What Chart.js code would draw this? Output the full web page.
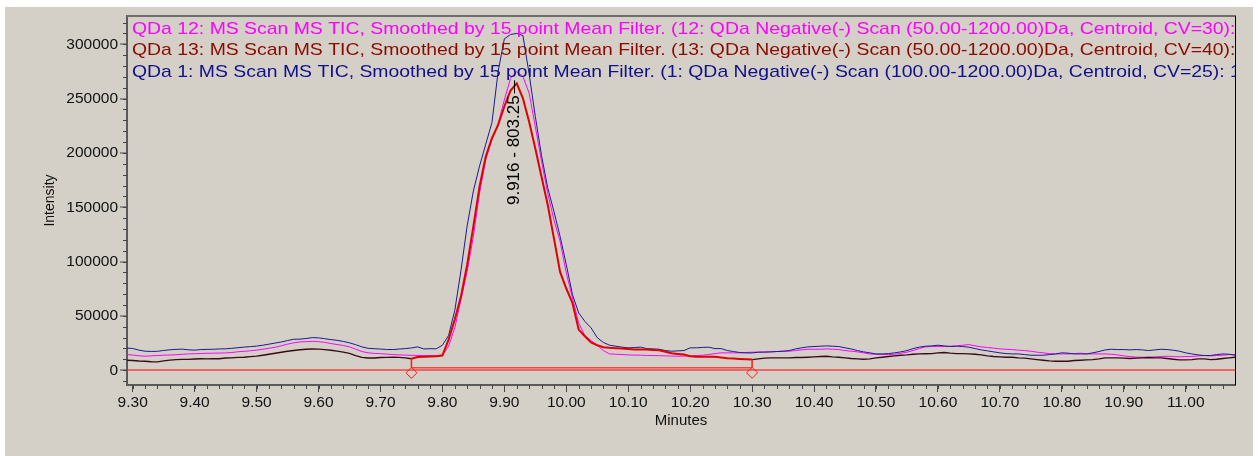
<!DOCTYPE html>
<html>
<head>
<meta charset="utf-8">
<script src="https://cdn.jsdelivr.net/npm/chart.js@4.4.0/dist/chart.umd.min.js"></script>
<style>
html,body{margin:0;padding:0;background:#ffffff;width:1259px;height:456px;overflow:hidden;}
#bg{position:absolute;left:5px;top:7px;width:1248px;height:449px;background:#d4d0c8;}
#wrap{position:absolute;left:0;top:0;width:1259px;height:456px;}
</style>
</head>
<body>
<div id="bg"></div>
<div id="wrap"><canvas id="c" width="1259" height="456"></canvas></div>
<script>
// ---------------- data ----------------
const times = [
9.29,9.30,9.31,9.32,9.33,9.34,9.35,9.36,9.37,9.38,
9.39,9.40,9.41,9.42,9.43,9.44,9.45,9.46,9.47,9.48,
9.49,9.50,9.51,9.52,9.53,9.54,9.55,9.56,9.57,9.58,
9.59,9.60,9.61,9.62,9.63,9.64,9.65,9.66,9.67,9.68,
9.69,9.70,9.71,9.72,9.73,9.74,9.75,9.76,9.77,9.78,
9.79,9.80,9.81,9.82,9.83,9.84,9.85,9.86,9.87,9.88,
9.89,9.90,9.91,9.92,9.93,9.94,9.95,9.96,9.97,9.98,
9.99,10.00,10.01,10.02,10.03,10.04,10.05,10.06,10.07,10.08,
10.09,10.10,10.11,10.12,10.13,10.14,10.15,10.16,10.17,10.18,
10.19,10.20,10.21,10.22,10.23,10.24,10.25,10.26,10.27,10.28,
10.29,10.30,10.31,10.32,10.33,10.34,10.35,10.36,10.37,10.38,
10.39,10.40,10.41,10.42,10.43,10.44,10.45,10.46,10.47,10.48,
10.49,10.50,10.51,10.52,10.53,10.54,10.55,10.56,10.57,10.58,
10.59,10.60,10.61,10.62,10.63,10.64,10.65,10.66,10.67,10.68,
10.69,10.70,10.71,10.72,10.73,10.74,10.75,10.76,10.77,10.78,
10.79,10.80,10.81,10.82,10.83,10.84,10.85,10.86,10.87,10.88,
10.89,10.90,10.91,10.92,10.93,10.94,10.95,10.96,10.97,10.98,
10.99,11.00,11.01,11.02,11.03,11.04,11.05,11.06,11.07,11.08
];

// QDa 1 (CV=25) - navy trace
const qda1 = [
20500,20000,18500,17500,17300,17400,18200,18800,19200,19400,
18800,18500,19000,19200,19300,19600,19700,20200,20700,21300,
21700,22200,23000,24000,25000,26000,27300,28500,28600,29200,
30000,29800,29000,28200,27500,26500,25200,23500,21500,20200,
19800,19500,19100,19000,19500,19900,20500,21500,19600,19800,
19700,23000,32000,55000,92000,133000,165000,188000,208000,228000,
275000,305000,309000,310000,308000,272700,233500,197700,168000,146200,
123200,97100,69600,52700,45000,39000,30000,25500,23000,22100,
21200,20600,20900,21200,19900,19600,19300,18100,17500,17800,
18100,20600,20600,21000,21200,19900,19900,18100,17200,16300,
15900,15900,16600,16600,16900,17200,17500,18100,19600,20600,
21500,21800,22100,22400,22100,21800,20600,19600,18100,16900,
16000,15000,15000,15300,16000,16900,18100,19900,21300,22100,
22400,23000,22400,21800,22100,21800,21200,19900,18700,17800,
16900,16000,15300,15000,15000,14400,13800,13800,13800,14400,
15000,16000,15700,15000,15000,15000,16000,17200,18700,19300,
19000,19000,18700,19000,18700,18100,18700,19300,19000,18400,
17500,16000,15000,14100,13500,13500,14400,15000,14700,13800
];

// QDa 12 (CV=30) - magenta trace
const qda12 = [
14400,14000,13300,12900,13200,13600,13800,14000,14200,14700,
15000,15200,15400,15600,15700,15800,15900,16300,17000,17400,
17900,18500,19300,20200,21100,22500,24000,25200,26000,26300,
26600,26300,25600,24600,23600,22800,21500,19400,17200,16000,
15500,15300,14800,14400,14100,13900,13700,13600,13400,13500,
13500,14000,22000,39000,65000,91000,123000,163000,193700,212600,
227000,248800,268700,274900,270300,255000,224300,192200,163000,138500,
118600,89500,66500,43500,31900,27300,23000,18000,15000,14700,
14400,14100,13900,13800,13600,13500,13400,13200,13000,12900,
13000,13200,13500,13800,14400,15300,16000,16000,16000,16000,
16300,16600,16600,16900,16900,17200,17500,17500,18100,18700,
19300,19300,19300,19600,19300,19000,18100,17500,16900,16000,
15000,14700,14400,14400,14700,15600,16600,18100,20000,21500,
21800,21800,21800,22100,22400,23000,23600,22400,21500,20900,
20300,19600,19300,19000,18400,18100,17500,16600,16000,15300,
15000,15000,15000,15300,15700,15000,15000,15000,15000,14700,
14100,13200,12600,12000,12000,12000,12300,12600,12900,12600,
12300,12600,12600,13200,13500,13200,13500,13800,14400,14400
];

// QDa 13 (CV=40) - dark trace, integrated part in red
const qda13 = [
9200,9000,8500,8200,7800,7700,8600,9300,9800,10000,
10000,10300,10600,10400,10500,10600,11200,11400,11800,12000,
12500,13000,13800,14700,15600,16500,17400,18200,18900,19300,
19500,19400,19000,18400,17600,16700,15500,13500,11800,11200,
11300,11700,11800,12000,11800,11400,10500,12200,12500,12700,
12900,13500,28200,46600,68000,97100,132400,169200,196700,213500,
225800,242700,257400,264000,250300,228600,204100,178100,152300,121600,
90500,75200,61900,37400,31300,25500,23000,21200,20600,20300,
20000,19600,19000,19000,19000,18700,18400,17000,15600,15000,
14400,12900,12300,12300,12300,12300,11700,11100,10800,10400,
10100,9800,10400,11100,11400,11400,11400,11400,11700,11700,
12000,12300,12600,12900,12300,12000,11400,10800,10400,10100,
10400,11400,12000,12600,13200,13800,14100,14700,15000,15200,
15300,16000,16300,15700,15300,15300,15000,14700,14100,13200,
12600,12300,12000,12000,11400,11100,10400,9800,9200,8600,
8300,8300,8300,8900,9200,9500,9800,10400,11400,11400,
11400,11100,10800,11100,11400,11700,11400,11400,10800,10100,
9500,9500,9800,10400,10400,9800,10100,10800,11400,12000
];

const xTickLabels = ['9.30','9.40','9.50','9.60','9.70','9.80','9.90','10.00','10.10','10.20',
                     '10.30','10.40','10.50','10.60','10.70','10.80','10.90','11.00'];
const yTickLabels = [0, 50000, 100000, 150000, 200000, 250000, 300000];

const legendLines = [
 'QDa 12: MS Scan MS TIC, Smoothed by 15 point Mean Filter. (12: QDa Negative(-) Scan (50.00-1200.00)Da, Centroid, CV=30): 1',
 'QDa 13: MS Scan MS TIC, Smoothed by 15 point Mean Filter. (13: QDa Negative(-) Scan (50.00-1200.00)Da, Centroid, CV=40): 1',
 'QDa 1: MS Scan MS TIC, Smoothed by 15 point Mean Filter. (1: QDa Negative(-) Scan (100.00-1200.00)Da, Centroid, CV=25): 1'
];
const legendColors = ['#ff00ff', '#8b0a00', '#10108a'];

const integTimes = [9.75, 10.30];    // integration start / end (min)
const integBaseline = 2200;          // integration baseline level
const integMarkerLevel = -2400;      // diamond marker level
const peakTime = 9.916;
const peakMass = '803.25';

// ---------------- chart ----------------
const FONT = '"Liberation Sans", Arial, sans-serif';
Chart.defaults.font.family = FONT;

const pts = arr => times.map((t, i) => ({x: t, y: arr[i]}));
const valueAt = (arr, t) => arr[times.findIndex(v => Math.abs(v - t) < 1e-6)];
const inInteg = c => c.p0.parsed.x >= integTimes[0] - 1e-9 && c.p1.parsed.x <= integTimes[1] + 1e-9;

const decor = {
  id: 'decor',
  afterDatasetsDraw(chart) {
    const {ctx, chartArea: ca, scales: {x, y}} = chart;
    ctx.save();
    // frame: top & right
    ctx.strokeStyle = '#6e6e6e'; ctx.lineWidth = 2;
    ctx.beginPath(); ctx.moveTo(ca.left, ca.top); ctx.lineTo(ca.right + 1, ca.top); ctx.stroke();
    ctx.strokeStyle = '#000'; ctx.lineWidth = 1;
    ctx.beginPath(); ctx.moveTo(ca.right + 0.5, ca.top); ctx.lineTo(ca.right + 0.5, ca.bottom); ctx.stroke();
    // minor ticks
    ctx.strokeStyle = '#444'; ctx.lineWidth = 1;
    ctx.beginPath();
    for (let k = Math.ceil(x.min * 50); k <= Math.floor(x.max * 50); k++) {
      const px = Math.round(x.getPixelForValue(k / 50)) + 0.5;
      ctx.moveTo(px, ca.bottom); ctx.lineTo(px, ca.bottom + 4);
    }
    for (let k = Math.ceil(y.min / 10000); k <= Math.floor(y.max / 10000); k++) {
      const py = Math.round(y.getPixelForValue(k * 10000)) + 0.5;
      ctx.moveTo(ca.left, py); ctx.lineTo(ca.left - 4, py);
    }
    ctx.stroke();

    // peak label
    const px = x.getPixelForValue(peakTime);
    const py = y.getPixelForValue(Math.max(...qda13));
    ctx.strokeStyle = '#000'; ctx.lineWidth = 1;
    ctx.beginPath(); ctx.moveTo(Math.round(px) + 0.5, py - 3); ctx.lineTo(Math.round(px) + 0.5, py + 10); ctx.stroke();
    ctx.save();
    ctx.translate(px, py + 12);
    ctx.rotate(-Math.PI / 2);
    ctx.font = '17px ' + FONT;
    ctx.fillStyle = '#000';
    ctx.textAlign = 'right'; ctx.textBaseline = 'middle';
    ctx.fillText(peakTime.toFixed(3) + ' - ' + peakMass, 0, 0);
    ctx.restore();

    // legend text lines (clipped to plot)
    ctx.save();
    ctx.beginPath(); ctx.rect(ca.left, ca.top, ca.right - ca.left, ca.bottom - ca.top); ctx.clip();
    ctx.font = '17px ' + FONT;
    ctx.textBaseline = 'middle'; ctx.textAlign = 'left';
    legendLines.forEach((ln, i) => {
      ctx.save();
      ctx.translate(ca.left + 5, ca.top + 13 + i * 21.45);
      ctx.scale(1.141, 1);
      ctx.fillStyle = legendColors[i];
      ctx.fillText(ln, 0, 0);
      ctx.restore();
    });
    ctx.restore();
    ctx.restore();
  }
};

const lineDs = (label, data, color, width, extra) => Object.assign({
  label, data, borderColor: color, backgroundColor: color, borderWidth: width,
  pointRadius: 0, tension: 0, fill: false
}, extra || {});

new Chart(document.getElementById('c'), {
  type: 'line',
  data: {
    datasets: [
      {label: 'markers', data: integTimes.map(t => ({x: t, y: integMarkerLevel})), showLine: false,
       pointStyle: 'rectRot', pointRadius: 5.5, borderColor: '#ff1a1a', backgroundColor: 'rgba(0,0,0,0)', borderWidth: 1},
      lineDs('drop start', [{x: integTimes[0], y: valueAt(qda13, integTimes[0])}, {x: integTimes[0], y: integBaseline}], '#ff1a1a', 1.5),
      lineDs('drop end', [{x: integTimes[1], y: valueAt(qda13, integTimes[1])}, {x: integTimes[1], y: integBaseline}], '#ff1a1a', 1.5),
      lineDs('baseline', integTimes.map(t => ({x: t, y: integBaseline})), '#ff0000', 1),
      lineDs('QDa 13', pts(qda13), '#3a0a16', 1.4, {
        segment: {
          borderColor: c => inInteg(c) ? '#e00000' : undefined,
          borderWidth: c => inInteg(c) ? 2 : undefined
        }
      }),
      lineDs('QDa 1', pts(qda1), '#1a1a8e', 1),
      lineDs('QDa 12', pts(qda12), '#ff00ff', 1)
    ]
  },
  options: {
    responsive: false,
    animation: false,
    devicePixelRatio: 1,
    layout: {padding: {left: 0, top: 16, right: 24, bottom: 0}},
    plugins: {legend: {display: false}, tooltip: {enabled: false}},
    scales: {
      x: {
        type: 'linear', min: 9.2908, max: 11.0796,
        afterBuildTicks: s => { s.ticks = xTickLabels.map(v => ({value: parseFloat(v)})); },
        afterFit: s => { s.height = 71; },
        ticks: {callback: (v, i) => xTickLabels[i], autoSkip: false, maxRotation: 0, minRotation: 0,
                padding: 1, color: '#111', font: {size: 15.5, family: FONT}},
        grid: {display: true, drawOnChartArea: false, drawTicks: true, tickLength: 7, tickColor: '#444', tickWidth: 1, color: 'rgba(0,0,0,0)'},
        border: {display: true, color: '#5a5a5a', width: 2},
        title: {display: true, text: 'Minutes', color: '#111', font: {size: 15, family: FONT}, padding: {top: 0, bottom: 26}}
      },
      y: {
        type: 'linear', min: -13600, max: 326000,
        afterBuildTicks: s => { s.ticks = yTickLabels.map(v => ({value: v})); },
        afterFit: s => { s.width = 127; },
        ticks: {callback: (v, i) => String(yTickLabels[i]), padding: 2, color: '#111', font: {size: 15.5, family: FONT}},
        grid: {display: true, drawOnChartArea: true, drawTicks: true, tickLength: 7, tickWidth: 1, tickColor: '#444',
               color: c => (c.tick && c.tick.value === 0) ? '#f06464' : 'rgba(0,0,0,0)', lineWidth: 2},
        border: {display: true, color: '#5a5a5a', width: 2},
        title: {display: true, text: 'Intensity', color: '#111', font: {size: 14, family: FONT}, padding: {top: 42, bottom: 0}}
      }
    }
  },
  plugins: [decor]
});
</script>
</body>
</html>
